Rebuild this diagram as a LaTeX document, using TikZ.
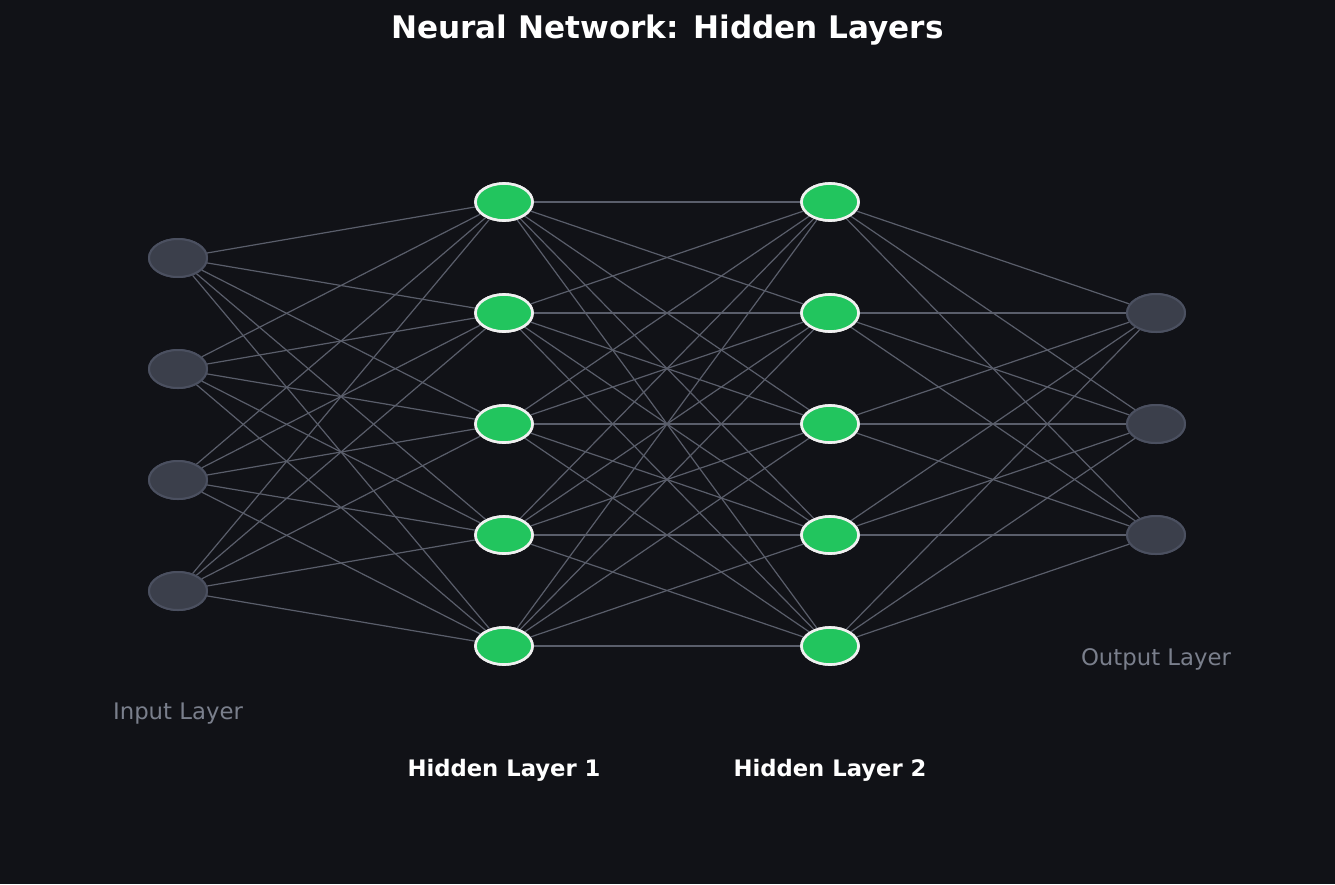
\documentclass[tikz,border=0pt]{standalone}
\usepackage{fontspec}
\setmainfont{DejaVu Sans}
\definecolor{bgc}{HTML}{111217}
\definecolor{infill}{HTML}{3B3F4B}
\definecolor{indraw}{HTML}{4B5060}
\definecolor{greenf}{HTML}{22C55E}
\definecolor{whited}{HTML}{F0F0F0}
\definecolor{edgec}{HTML}{5A5E6B}
\definecolor{labgray}{HTML}{7A7F8C}
\tikzset{
  grayneuron/.style={ellipse, minimum width=58pt, minimum height=38pt, inner sep=0pt, fill=infill, draw=indraw, line width=2pt},
  greenneuron/.style={ellipse, minimum width=57pt, minimum height=37pt, inner sep=0pt, fill=greenf, draw=whited, line width=2.6pt},
  edge/.style={draw=edgec, line width=1.2pt},
  layerlab/.style={text=labgray, font=\fontsize{22.8pt}{27pt}\selectfont},
  hidlab/.style={text=white, font=\fontsize{22.7pt}{27pt}\selectfont\bfseries},
}
\usetikzlibrary{shapes.geometric}
\begin{document}
\begin{tikzpicture}[x=1pt,y=-1pt]
\fill[bgc] (0,0) rectangle (1335,884);
\useasboundingbox (0,0) rectangle (1335,884);
\node[text=white, font=\fontsize{31.1pt}{36pt}\selectfont\bfseries] (title) at (667.5,30) {Neural Network: Hidden Layers};
% nodes
\foreach \i/\y in {1/258,2/369,3/480,4/591} \node[grayneuron] (a\i) at (178,\y) {};
\foreach \i/\y in {1/202,2/313,3/424,4/535,5/646} \node[greenneuron] (b\i) at (504,\y) {};
\foreach \i/\y in {1/202,2/313,3/424,4/535,5/646} \node[greenneuron] (c\i) at (830,\y) {};
\foreach \i/\y in {1/313,2/424,3/535} \node[grayneuron] (d\i) at (1156,\y) {};
% edges
\foreach \i in {1,...,4} \foreach \j in {1,...,5} \draw[edge] (a\i) -- (b\j);
\foreach \i in {1,...,5} \foreach \j in {1,...,5} \draw[edge] (b\i) -- (c\j);
\foreach \i in {1,...,5} \foreach \j in {1,...,3} \draw[edge] (c\i) -- (d\j);
% redraw nodes on top
\foreach \i/\y in {1/258,2/369,3/480,4/591} \node[grayneuron] at (178,\y) {};
\foreach \i/\y in {1/202,2/313,3/424,4/535,5/646} \node[greenneuron] at (504,\y) {};
\foreach \i/\y in {1/202,2/313,3/424,4/535,5/646} \node[greenneuron] at (830,\y) {};
\foreach \i/\y in {1/313,2/424,3/535} \node[grayneuron] at (1156,\y) {};
% labels
\node[layerlab] (inlab) at (178,714) {Input Layer};
\node[layerlab] (outlab) at (1156,659) {Output Layer};
\node[hidlab] (h1lab) at (504,770) {Hidden Layer 1};
\node[hidlab] (h2lab) at (830,770) {Hidden Layer 2};
\end{tikzpicture}
\end{document}
